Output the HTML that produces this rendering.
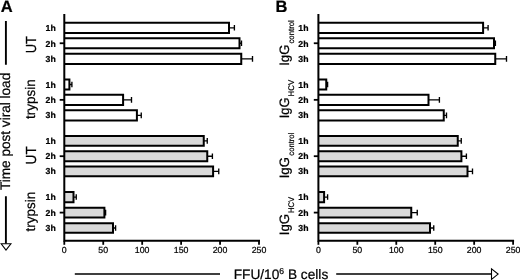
<!DOCTYPE html>
<html lang="en"><head><meta charset="utf-8"><title>Figure</title>
<style>html,body{margin:0;padding:0;background:#fff}svg{display:block}</style></head>
<body>
<svg width="520" height="280" viewBox="0 0 520 280" font-family="'Liberation Sans', Arial, Helvetica, sans-serif" fill="#000" text-rendering="geometricPrecision">
<style>text{stroke:#000;stroke-width:0.22px}</style>
<rect width="520" height="280" fill="#fff"/>
<path d="M229.00 27.80H234.40M234.40 25.00V30.60" stroke="#000" stroke-width="1.35" fill="none"/>
<path d="M239.50 43.25H241.50M241.50 40.45V46.05" stroke="#000" stroke-width="1.35" fill="none"/>
<path d="M241.25 58.90H252.50M252.50 56.10V61.70" stroke="#000" stroke-width="1.35" fill="none"/>
<path d="M69.40 84.45H71.90M71.90 81.65V87.25" stroke="#000" stroke-width="1.35" fill="none"/>
<path d="M123.10 99.85H131.50M131.50 97.05V102.65" stroke="#000" stroke-width="1.35" fill="none"/>
<path d="M136.90 115.35H141.25M141.25 112.55V118.15" stroke="#000" stroke-width="1.35" fill="none"/>
<path d="M203.75 140.85H207.25M207.25 138.05V143.65" stroke="#000" stroke-width="1.35" fill="none"/>
<path d="M207.25 156.20H212.40M212.40 153.40V159.00" stroke="#000" stroke-width="1.35" fill="none"/>
<path d="M213.10 171.35H218.75M218.75 168.55V174.15" stroke="#000" stroke-width="1.35" fill="none"/>
<path d="M73.50 197.05H76.25M76.25 194.25V199.85" stroke="#000" stroke-width="1.35" fill="none"/>
<path d="M104.40 212.60H105.60M105.60 209.80V215.40" stroke="#000" stroke-width="1.35" fill="none"/>
<path d="M113.00 227.95H115.60M115.60 225.15V230.75" stroke="#000" stroke-width="1.35" fill="none"/>
<path d="M64.30 22.70H229.00V32.90H64.30" fill="#fff" stroke="#000" stroke-width="2.0" stroke-linejoin="miter"/>
<path d="M64.30 38.20H239.50V48.30H64.30" fill="#fff" stroke="#000" stroke-width="2.0" stroke-linejoin="miter"/>
<path d="M64.30 53.80H241.25V64.00H64.30" fill="#fff" stroke="#000" stroke-width="2.0" stroke-linejoin="miter"/>
<path d="M64.30 79.40H69.40V89.50H64.30" fill="#fff" stroke="#000" stroke-width="2.0" stroke-linejoin="miter"/>
<path d="M64.30 94.80H123.10V104.90H64.30" fill="#fff" stroke="#000" stroke-width="2.0" stroke-linejoin="miter"/>
<path d="M64.30 110.20H136.90V120.50H64.30" fill="#fff" stroke="#000" stroke-width="2.0" stroke-linejoin="miter"/>
<path d="M64.30 136.00H203.75V145.70H64.30" fill="#d9d9d9" stroke="#000" stroke-width="2.0" stroke-linejoin="miter"/>
<path d="M64.30 151.20H207.25V161.20H64.30" fill="#d9d9d9" stroke="#000" stroke-width="2.0" stroke-linejoin="miter"/>
<path d="M64.30 166.40H213.10V176.30H64.30" fill="#d9d9d9" stroke="#000" stroke-width="2.0" stroke-linejoin="miter"/>
<path d="M64.30 191.90H73.50V202.20H64.30" fill="#d9d9d9" stroke="#000" stroke-width="2.0" stroke-linejoin="miter"/>
<path d="M64.30 207.70H104.40V217.50H64.30" fill="#d9d9d9" stroke="#000" stroke-width="2.0" stroke-linejoin="miter"/>
<path d="M64.30 223.20H113.00V232.70H64.30" fill="#d9d9d9" stroke="#000" stroke-width="2.0" stroke-linejoin="miter"/>
<path d="M64.30 14V241.8M63.30 240.8H260.00" stroke="#000" stroke-width="2" fill="none"/>
<path d="M64.30 240.8V244.8" stroke="#000" stroke-width="1.8"/>
<text x="64.30" y="253.0" font-size="8.8" stroke-width="0.15" text-anchor="middle">0</text>
<path d="M103.24 240.8V244.8" stroke="#000" stroke-width="1.8"/>
<text x="103.24" y="253.0" font-size="8.8" stroke-width="0.15" text-anchor="middle">50</text>
<path d="M142.18 240.8V244.8" stroke="#000" stroke-width="1.8"/>
<text x="142.18" y="253.0" font-size="8.8" stroke-width="0.15" text-anchor="middle">100</text>
<path d="M181.12 240.8V244.8" stroke="#000" stroke-width="1.8"/>
<text x="181.12" y="253.0" font-size="8.8" stroke-width="0.15" text-anchor="middle">150</text>
<path d="M220.06 240.8V244.8" stroke="#000" stroke-width="1.8"/>
<text x="220.06" y="253.0" font-size="8.8" stroke-width="0.15" text-anchor="middle">200</text>
<path d="M259.00 240.8V244.8" stroke="#000" stroke-width="1.8"/>
<text x="259.00" y="253.0" font-size="8.8" stroke-width="0.15" text-anchor="middle">250</text>
<path d="M59.70 43.25H64.30" stroke="#000" stroke-width="1.8"/>
<path d="M59.70 99.85H64.30" stroke="#000" stroke-width="1.8"/>
<path d="M59.70 156.20H64.30" stroke="#000" stroke-width="1.8"/>
<path d="M59.70 212.60H64.30" stroke="#000" stroke-width="1.8"/>
<text x="55.70" y="31.10" font-size="8.7" font-weight="bold" stroke="#fff" stroke-width="0.5" text-anchor="end">1h</text>
<text x="55.70" y="46.52" font-size="8.7" font-weight="bold" stroke="#fff" stroke-width="0.5" text-anchor="end">2h</text>
<text x="55.70" y="62.14" font-size="8.7" font-weight="bold" stroke="#fff" stroke-width="0.5" text-anchor="end">3h</text>
<text x="55.70" y="87.65" font-size="8.7" font-weight="bold" stroke="#fff" stroke-width="0.5" text-anchor="end">1h</text>
<text x="55.70" y="103.02" font-size="8.7" font-weight="bold" stroke="#fff" stroke-width="0.5" text-anchor="end">2h</text>
<text x="55.70" y="118.49" font-size="8.7" font-weight="bold" stroke="#fff" stroke-width="0.5" text-anchor="end">3h</text>
<text x="55.70" y="143.96" font-size="8.7" font-weight="bold" stroke="#fff" stroke-width="0.5" text-anchor="end">1h</text>
<text x="55.70" y="159.28" font-size="8.7" font-weight="bold" stroke="#fff" stroke-width="0.5" text-anchor="end">2h</text>
<text x="55.70" y="174.40" font-size="8.7" font-weight="bold" stroke="#fff" stroke-width="0.5" text-anchor="end">3h</text>
<text x="55.70" y="200.06" font-size="8.7" font-weight="bold" stroke="#fff" stroke-width="0.5" text-anchor="end">1h</text>
<text x="55.70" y="215.58" font-size="8.7" font-weight="bold" stroke="#fff" stroke-width="0.5" text-anchor="end">2h</text>
<text x="55.70" y="230.90" font-size="8.7" font-weight="bold" stroke="#fff" stroke-width="0.5" text-anchor="end">3h</text>
<path d="M483.10 27.80H488.10M488.10 25.00V30.60" stroke="#000" stroke-width="1.35" fill="none"/>
<path d="M494.00 43.25H495.40M495.40 40.45V46.05" stroke="#000" stroke-width="1.35" fill="none"/>
<path d="M495.25 58.90H506.50M506.50 56.10V61.70" stroke="#000" stroke-width="1.35" fill="none"/>
<path d="M326.25 84.45H327.60M327.60 81.65V87.25" stroke="#000" stroke-width="1.35" fill="none"/>
<path d="M428.50 99.85H439.40M439.40 97.05V102.65" stroke="#000" stroke-width="1.35" fill="none"/>
<path d="M443.75 115.35H446.50M446.50 112.55V118.15" stroke="#000" stroke-width="1.35" fill="none"/>
<path d="M457.75 140.85H461.25M461.25 138.05V143.65" stroke="#000" stroke-width="1.35" fill="none"/>
<path d="M461.40 156.20H466.40M466.40 153.40V159.00" stroke="#000" stroke-width="1.35" fill="none"/>
<path d="M467.50 171.35H472.50M472.50 168.55V174.15" stroke="#000" stroke-width="1.35" fill="none"/>
<path d="M324.10 197.05H327.60M327.60 194.25V199.85" stroke="#000" stroke-width="1.35" fill="none"/>
<path d="M411.25 212.60H417.25M417.25 209.80V215.40" stroke="#000" stroke-width="1.35" fill="none"/>
<path d="M430.00 227.95H433.75M433.75 225.15V230.75" stroke="#000" stroke-width="1.35" fill="none"/>
<path d="M318.40 22.70H483.10V32.90H318.40" fill="#fff" stroke="#000" stroke-width="2.0" stroke-linejoin="miter"/>
<path d="M318.40 38.20H494.00V48.30H318.40" fill="#fff" stroke="#000" stroke-width="2.0" stroke-linejoin="miter"/>
<path d="M318.40 53.80H495.25V64.00H318.40" fill="#fff" stroke="#000" stroke-width="2.0" stroke-linejoin="miter"/>
<path d="M318.40 79.40H326.25V89.50H318.40" fill="#fff" stroke="#000" stroke-width="2.0" stroke-linejoin="miter"/>
<path d="M318.40 94.80H428.50V104.90H318.40" fill="#fff" stroke="#000" stroke-width="2.0" stroke-linejoin="miter"/>
<path d="M318.40 110.20H443.75V120.50H318.40" fill="#fff" stroke="#000" stroke-width="2.0" stroke-linejoin="miter"/>
<path d="M318.40 136.00H457.75V145.70H318.40" fill="#d9d9d9" stroke="#000" stroke-width="2.0" stroke-linejoin="miter"/>
<path d="M318.40 151.20H461.40V161.20H318.40" fill="#d9d9d9" stroke="#000" stroke-width="2.0" stroke-linejoin="miter"/>
<path d="M318.40 166.40H467.50V176.30H318.40" fill="#d9d9d9" stroke="#000" stroke-width="2.0" stroke-linejoin="miter"/>
<path d="M318.40 191.90H324.10V202.20H318.40" fill="#d9d9d9" stroke="#000" stroke-width="2.0" stroke-linejoin="miter"/>
<path d="M318.40 207.70H411.25V217.50H318.40" fill="#d9d9d9" stroke="#000" stroke-width="2.0" stroke-linejoin="miter"/>
<path d="M318.40 223.20H430.00V232.70H318.40" fill="#d9d9d9" stroke="#000" stroke-width="2.0" stroke-linejoin="miter"/>
<path d="M318.40 14V241.8M317.40 240.8H514.10" stroke="#000" stroke-width="2" fill="none"/>
<path d="M318.40 240.8V244.8" stroke="#000" stroke-width="1.8"/>
<text x="318.40" y="253.0" font-size="8.8" stroke-width="0.15" text-anchor="middle">0</text>
<path d="M357.34 240.8V244.8" stroke="#000" stroke-width="1.8"/>
<text x="357.34" y="253.0" font-size="8.8" stroke-width="0.15" text-anchor="middle">50</text>
<path d="M396.28 240.8V244.8" stroke="#000" stroke-width="1.8"/>
<text x="396.28" y="253.0" font-size="8.8" stroke-width="0.15" text-anchor="middle">100</text>
<path d="M435.22 240.8V244.8" stroke="#000" stroke-width="1.8"/>
<text x="435.22" y="253.0" font-size="8.8" stroke-width="0.15" text-anchor="middle">150</text>
<path d="M474.16 240.8V244.8" stroke="#000" stroke-width="1.8"/>
<text x="474.16" y="253.0" font-size="8.8" stroke-width="0.15" text-anchor="middle">200</text>
<path d="M513.10 240.8V244.8" stroke="#000" stroke-width="1.8"/>
<text x="513.10" y="253.0" font-size="8.8" stroke-width="0.15" text-anchor="middle">250</text>
<path d="M313.80 43.25H318.40" stroke="#000" stroke-width="1.8"/>
<path d="M313.80 99.85H318.40" stroke="#000" stroke-width="1.8"/>
<path d="M313.80 156.20H318.40" stroke="#000" stroke-width="1.8"/>
<path d="M313.80 212.60H318.40" stroke="#000" stroke-width="1.8"/>
<text x="308.50" y="31.10" font-size="8.7" font-weight="bold" stroke="#fff" stroke-width="0.5" text-anchor="end">1h</text>
<text x="308.50" y="46.52" font-size="8.7" font-weight="bold" stroke="#fff" stroke-width="0.5" text-anchor="end">2h</text>
<text x="308.50" y="62.14" font-size="8.7" font-weight="bold" stroke="#fff" stroke-width="0.5" text-anchor="end">3h</text>
<text x="308.50" y="87.65" font-size="8.7" font-weight="bold" stroke="#fff" stroke-width="0.5" text-anchor="end">1h</text>
<text x="308.50" y="103.02" font-size="8.7" font-weight="bold" stroke="#fff" stroke-width="0.5" text-anchor="end">2h</text>
<text x="308.50" y="118.49" font-size="8.7" font-weight="bold" stroke="#fff" stroke-width="0.5" text-anchor="end">3h</text>
<text x="308.50" y="143.96" font-size="8.7" font-weight="bold" stroke="#fff" stroke-width="0.5" text-anchor="end">1h</text>
<text x="308.50" y="159.28" font-size="8.7" font-weight="bold" stroke="#fff" stroke-width="0.5" text-anchor="end">2h</text>
<text x="308.50" y="174.40" font-size="8.7" font-weight="bold" stroke="#fff" stroke-width="0.5" text-anchor="end">3h</text>
<text x="308.50" y="200.06" font-size="8.7" font-weight="bold" stroke="#fff" stroke-width="0.5" text-anchor="end">1h</text>
<text x="308.50" y="215.58" font-size="8.7" font-weight="bold" stroke="#fff" stroke-width="0.5" text-anchor="end">2h</text>
<text x="308.50" y="230.90" font-size="8.7" font-weight="bold" stroke="#fff" stroke-width="0.5" text-anchor="end">3h</text>
<text x="0.7" y="11.7" font-size="16.5" font-weight="bold" stroke="none">A</text>
<text x="275.4" y="12.0" font-size="16.5" font-weight="bold" stroke="none">B</text>
<path d="M5.9 21V64.8M5.9 196.2V243.8" stroke="#000" stroke-width="1.9" fill="none"/>
<path d="M1.2 243.8H10.9L6 250Z" stroke="#000" stroke-width="1.1" fill="#fff" stroke-linejoin="miter"/>
<text transform="translate(10.40 190.00) rotate(-90)" font-size="13.8" textLength="117.20" lengthAdjust="spacingAndGlyphs">Time post viral load</text>
<text transform="translate(35.60 53.20) rotate(-90)" font-size="14.6" textLength="17.20" lengthAdjust="spacingAndGlyphs">UT</text>
<text transform="translate(35.40 118.90) rotate(-90)" font-size="13.8" textLength="39.60" lengthAdjust="spacingAndGlyphs">trypsin</text>
<text transform="translate(35.60 164.40) rotate(-90)" font-size="14.6" textLength="18.20" lengthAdjust="spacingAndGlyphs">UT</text>
<text transform="translate(35.40 231.40) rotate(-90)" font-size="13.8" textLength="39.60" lengthAdjust="spacingAndGlyphs">trypsin</text>
<text transform="translate(288.75 65.80) rotate(-90)" font-size="13.6" textLength="21.20" lengthAdjust="spacingAndGlyphs">IgG</text>
<text transform="translate(288.75 118.30) rotate(-90)" font-size="13.6" textLength="20.70" lengthAdjust="spacingAndGlyphs">IgG</text>
<text transform="translate(288.75 178.30) rotate(-90)" font-size="13.6" textLength="21.20" lengthAdjust="spacingAndGlyphs">IgG</text>
<text transform="translate(288.75 235.20) rotate(-90)" font-size="13.6" textLength="21.40" lengthAdjust="spacingAndGlyphs">IgG</text>
<text transform="translate(294.00 43.60) rotate(-90)" font-size="8.2" textLength="23.40" lengthAdjust="spacingAndGlyphs">control</text>
<text transform="translate(294.00 155.70) rotate(-90)" font-size="8.2" textLength="23.00" lengthAdjust="spacingAndGlyphs">control</text>
<text transform="translate(294.00 96.40) rotate(-90)" font-size="8.2" textLength="16.50" lengthAdjust="spacingAndGlyphs">HCV</text>
<text transform="translate(294.00 212.90) rotate(-90)" font-size="8.2" textLength="16.10" lengthAdjust="spacingAndGlyphs">HCV</text>
<path d="M74.8 274.1H220M336.2 274.1H491.5" stroke="#000" stroke-width="1.5" fill="none"/>
<path d="M491.5 268.8V279.4L498.1 274.1Z" stroke="#000" stroke-width="1.1" fill="#fff"/>
<text x="233.7" y="279" font-size="13.7">FFU/10<tspan font-size="8.6" dy="-4.9">6</tspan><tspan dy="4.9"> B cells</tspan></text>
</svg>
</body></html>
